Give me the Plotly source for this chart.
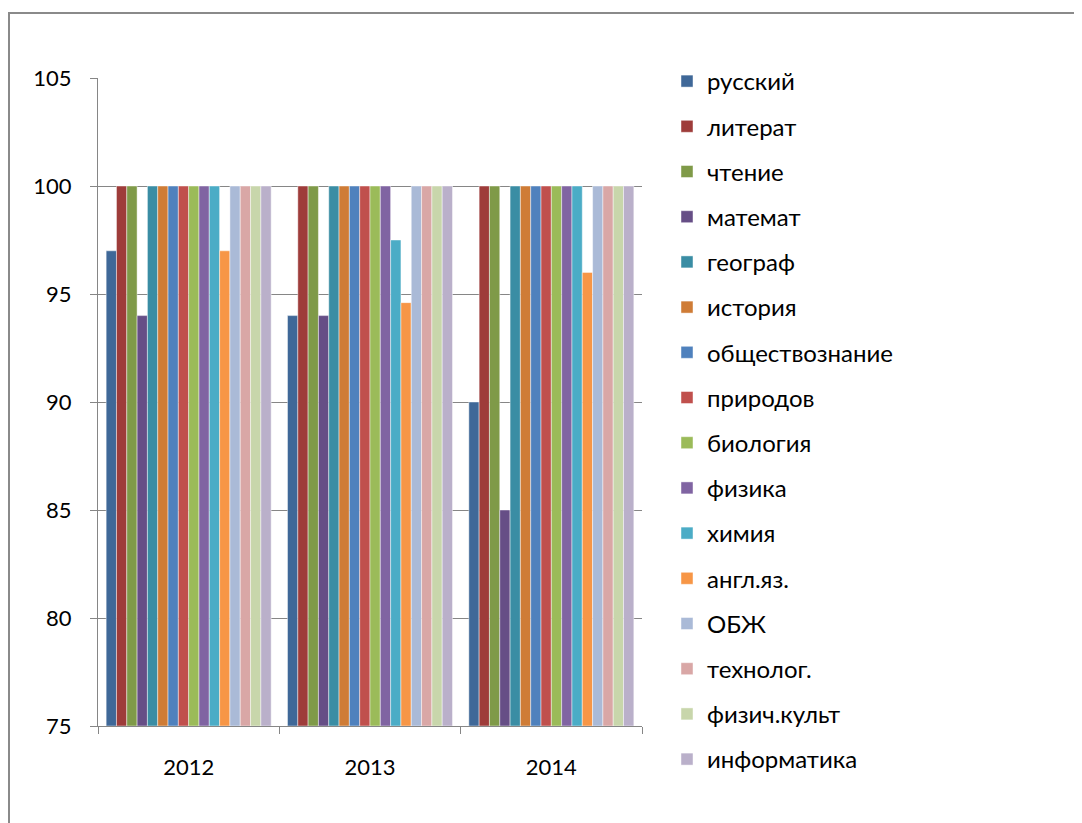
import plotly.graph_objects as go

years = ["2012", "2013", "2014"]
subjects = ["русский", "литерат", "чтение", "математ", "географ", "история",
            "обществознание", "природов", "биология", "физика", "химия",
            "англ.яз.", "ОБЖ", "технолог.", "физич.культ", "информатика"]
v_rus = [97, 94, 90]
v_lit = [100, 100, 100]
v_cht = [100, 100, 100]
v_mat = [94, 94, 85]
v_geo = [100, 100, 100]
v_ist = [100, 100, 100]
v_obsh = [100, 100, 100]
v_prir = [100, 100, 100]
v_bio = [100, 100, 100]
v_fiz = [100, 100, 100]
v_him = [100, 97.5, 100]
v_angl = [97, 94.6, 96]
v_obzh = [100, 100, 100]
v_teh = [100, 100, 100]
v_fk = [100, 100, 100]
v_inf = [100, 100, 100]
values = [v_rus, v_lit, v_cht, v_mat, v_geo, v_ist, v_obsh, v_prir, v_bio,
          v_fiz, v_him, v_angl, v_obzh, v_teh, v_fk, v_inf]
colors = ["#3F6898", "#9E3C3A", "#7F9A48", "#664E86", "#3A8DA4", "#CF7C36",
          "#4F81BD", "#C0504D", "#9BBB59", "#8064A2", "#4BACC6", "#F79646",
          "#AABAD7", "#D9A7A6", "#C8D6AB", "#BAB0CA"]

FONT = "Lato, 'Open Sans', sans-serif"
AXIS_MIN = 75

fig = go.Figure()
for name, vals, col in zip(subjects, values, colors):
    fig.add_trace(go.Bar(x=years, y=[v - AXIS_MIN for v in vals], base=AXIS_MIN,
                         name=name, legendgroup=name,
                         hovertext=[str(v) for v in vals],
                         marker=dict(color=col, line=dict(color="rgba(255,255,255,0.45)", width=1))))

# figure-pixel coordinates (page body has an 8px margin)
L, R, T, B = 90, 634, 70, 718
W, H = 1074, 815
pw, ph = R - L, B - T

fig.update_layout(
    width=W, height=H,
    margin=dict(l=L, r=W - R, t=T, b=H - B, pad=0),
    paper_bgcolor="white", plot_bgcolor="white",
    barmode="group", bargap=0.09, bargroupgap=0,
    font=dict(family=FONT, size=22, color="black"),
    showlegend=True,
    legend=dict(x=(659 - L) / pw, xanchor="left", y=(B - 51) / ph, yanchor="top",
                tracegroupgap=11, itemwidth=30, font=dict(size=24, family=FONT),
                bgcolor="rgba(0,0,0,0)", maxheight=790),
    xaxis=dict(showline=True, linecolor="#868686", linewidth=1, ticks="outside",
               tickson="boundaries", ticklen=7, tickcolor="#868686",
               tickfont=dict(size=22, family=FONT), ticklabelstandoff=22),
    yaxis=dict(range=[75, 105], dtick=5, tick0=75, showgrid=True, gridcolor="#868686",
               gridwidth=1, showline=True, linecolor="#868686", linewidth=1,
               ticks="outside", ticklen=7, tickcolor="#868686", zeroline=False,
               tickfont=dict(size=22, family=FONT), ticklabelstandoff=14),
    shapes=[dict(type="rect", xref="paper", yref="paper",
                 x0=(1 - L) / pw, x1=(1100 - L) / pw,
                 y0=(B - 840) / ph, y1=(B - 5) / ph,
                 line=dict(color="#8A8A8A", width=2), fillcolor="rgba(0,0,0,0)", layer="below")],
)
fig.write_html("out.html")
